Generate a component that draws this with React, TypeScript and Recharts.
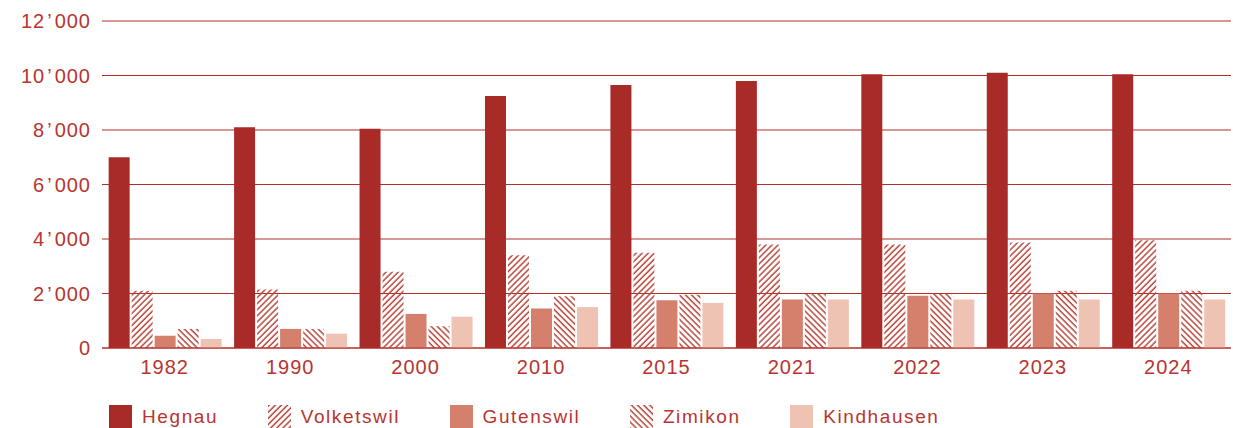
import React from 'react';
import { BarChart, Bar, XAxis, YAxis, CartesianGrid, Legend } from 'recharts';

const years = ['1982', '1990', '2000', '2010', '2015', '2021', '2022', '2023', '2024'];
const hegnau = [7000, 8100, 8050, 9250, 9650, 9800, 10050, 10100, 10050];
const volketswil = [2100, 2150, 2800, 3400, 3500, 3800, 3800, 3870, 3950];
const gutenswil = [450, 700, 1250, 1450, 1750, 1780, 1920, 2000, 2000];
const zimikon = [700, 700, 800, 1900, 1950, 2000, 2000, 2100, 2100];
const kindhausen = [330, 525, 1150, 1500, 1650, 1780, 1780, 1780, 1780];
const yTicks = [0, 2000, 4000, 6000, 8000, 10000, 12000];

const TEXT = '#b9342f';
const GRID = '#b22f2a';
const C_HEGNAU = '#a82b27';
const C_HATCH = '#b8463b';
const C_GUTENSWIL = '#d4806d';
const C_KINDHAUSEN = '#efc3b3';

const data = years.map((y, i) => ({
  year: y,
  Hegnau: hegnau[i],
  Volketswil: volketswil[i],
  Gutenswil: gutenswil[i],
  Zimikon: zimikon[i],
  Kindhausen: kindhausen[i],
}));

const legendItems = [
  { name: 'Hegnau', fill: C_HEGNAU },
  { name: 'Volketswil', fill: 'hatchA' },
  { name: 'Gutenswil', fill: C_GUTENSWIL },
  { name: 'Zimikon', fill: 'hatchB' },
  { name: 'Kindhausen', fill: C_KINDHAUSEN },
];

const Hatch = ({ id, angle }: { id: string; angle: number }) => (
  <pattern id={id} patternUnits="userSpaceOnUse" width={4.3} height={4.3} patternTransform={`rotate(${angle})`}>
    <line x1={1} y1={-1} x2={1} y2={6} stroke={C_HATCH} strokeWidth={1.5} />
  </pattern>
);

const YTick = (props: any) => {
  const { x, y, payload } = props;
  const v: number = payload.value;
  const style = { fontFamily: '"Liberation Sans", Arial, sans-serif', fontSize: 20, fill: TEXT, letterSpacing: 1 };
  if (v < 1000) {
    return (
      <text x={x} y={y} dy="0.355em" textAnchor="end" style={style}>{String(v)}</text>
    );
  }
  return (
    <text x={x} y={y} dy="0.355em" textAnchor="end" style={style}>
      <tspan>{String(Math.floor(v / 1000))}</tspan>
      <tspan dx={2}>{'\u2019'}</tspan>
      <tspan dx={2}>{'000'}</tspan>
    </text>
  );
};

const renderLegend = () => (
  <div
    style={{
      display: 'flex',
      alignItems: 'center',
      height: 40,
      boxSizing: 'border-box',
      paddingTop: 16,
      paddingLeft: 109,
    }}
  >
    {legendItems.map((it, i) => (
      <div key={it.name} style={{ display: 'flex', alignItems: 'center', marginRight: 49.5, height: 23 }}>
        <svg width={23} height={23} style={{ display: 'block' }}>
          <defs>
            <Hatch id={`lgA${i}`} angle={45} />
            <Hatch id={`lgB${i}`} angle={-45} />
          </defs>
          <rect
            x={0}
            y={0}
            width={23}
            height={23}
            fill={it.fill === 'hatchA' ? `url(#lgA${i})` : it.fill === 'hatchB' ? `url(#lgB${i})` : it.fill}
          />
        </svg>
        <span
          style={{
            marginLeft: 10,
            fontFamily: '"Liberation Sans", Arial, sans-serif',
            fontSize: 19,
            letterSpacing: 1.6,
            color: TEXT,
            lineHeight: '23px',
          }}
        >
          {it.name}
        </span>
      </div>
    ))}
  </div>
);

export default function App() {
  return (
    <div style={{ position: 'absolute', left: 0, top: 0, width: 1233, height: 428, background: '#fff' }}>
      <BarChart
        width={1233}
        height={428}
        data={data}
        margin={{ top: 21, right: 2, bottom: 0, left: 0 }}
        barCategoryGap="5.3%"
        barGap={2}
      >
        <defs>
          <Hatch id="hatchA" angle={45} />
          <Hatch id="hatchB" angle={-45} />
        </defs>
        <CartesianGrid vertical={false} stroke={GRID} strokeWidth={1.2} />
        <XAxis
          dataKey="year"
          height={40}
          tickLine={false}
          tickSize={0}
          tickMargin={12}
          axisLine={{ stroke: GRID, strokeWidth: 1.2 }}
          tick={{ fontFamily: '"Liberation Sans", Arial, sans-serif', fontSize: 20, fill: TEXT, letterSpacing: 1 }}
          interval={0}
        />
        <YAxis
          width={102}
          domain={[0, 12000]}
          ticks={yTicks}
          tickLine={false}
          axisLine={false}
          tickSize={0}
          tickMargin={11}
          tick={<YTick />}
          interval={0}
        />
        <Legend verticalAlign="bottom" height={40} wrapperStyle={{ left: 0, width: 1233 }} content={renderLegend} />
        <Bar dataKey="Hegnau" fill={C_HEGNAU} isAnimationActive={false} />
        <Bar dataKey="Volketswil" fill="url(#hatchA)" isAnimationActive={false} />
        <Bar dataKey="Gutenswil" fill={C_GUTENSWIL} isAnimationActive={false} />
        <Bar dataKey="Zimikon" fill="url(#hatchB)" isAnimationActive={false} />
        <Bar dataKey="Kindhausen" fill={C_KINDHAUSEN} isAnimationActive={false} />
      </BarChart>
    </div>
  );
}
